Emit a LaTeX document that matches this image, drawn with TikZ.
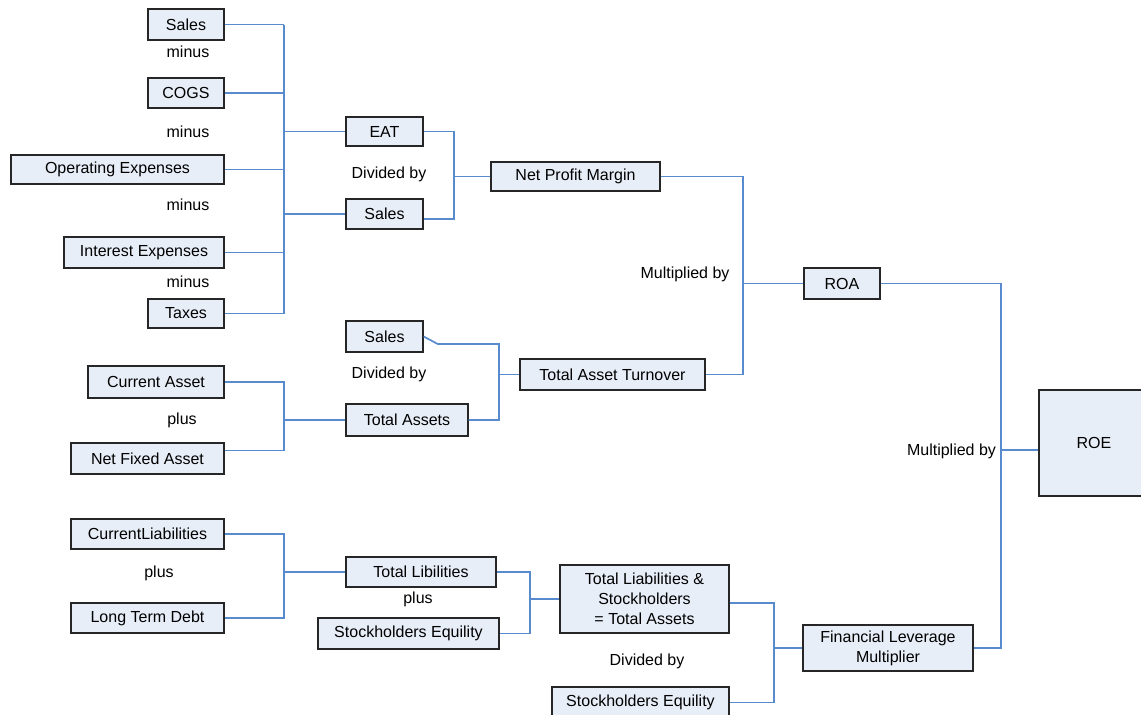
\documentclass[tikz,border=0pt]{standalone}
\usepackage{fontspec}
\setmainfont{Liberation Sans}
\definecolor{boxfill}{RGB}{232,238,248}
\definecolor{linkblue}{RGB}{88,138,206}
\begin{document}
\begin{tikzpicture}[x=1pt,y=-1pt]
		\tikzset{box/.style = {draw=black!85, fill=boxfill, line width=1.4pt, inner sep=0pt, align=center},
			link/.style = {draw=linkblue, line width=1.7pt},
			every node/.style = {font=\fontsize{16}{20}\selectfont}}

		\path[fill=white, use as bounding box] (0,0) rectangle (1141,715);

		\node[box, minimum width=76pt, minimum height=31pt] (sales_1) at (186,24.5) {Sales};
		\node (minus_1) at (188,52) {minus};
		\node[box, minimum width=76pt, minimum height=30pt] (cogs) at (186,93) {COGS};
		\node (minus_2) at (188,132) {minus};
		\node[box, minimum width=213pt, minimum height=29pt] (opex) at (117.5,169.5) {Operating Expenses};
		\node (minus_3) at (188,205) {minus};
		\node[box, minimum width=160pt, minimum height=31pt] (intexp) at (144,252.5) {Interest Expenses};
		\node (minus_4) at (188,282) {minus};
		\node[box, minimum width=76pt, minimum height=29pt] (taxes) at (186,313.5) {Taxes};

		\node[box, minimum width=77pt, minimum height=29pt] (eat) at (384.5,131.5) {EAT};
		\node (div_1) at (389,174) {Divided by};
		\node[box, minimum width=77pt, minimum height=30pt] (sales_2) at (384.5,214) {Sales};
		\node[box, minimum width=169pt, minimum height=29pt] (npm) at (575.5,176.5) {Net Profit Margin};

		\node[box, minimum width=77pt, minimum height=31pt] (sales_3) at (384.5,336.5) {Sales};
		\node (div_2) at (389,374) {Divided by};
		\node[box, minimum width=122pt, minimum height=32pt] (tassets) at (407,420) {Total Assets};
		\node[box, minimum width=185pt, minimum height=31pt] (tat) at (612.5,374.5) {Total Asset Turnover};

		\node[box, minimum width=136pt, minimum height=32pt] (cur_asset) at (156,382) {Current Asset};
		\node (plus_1) at (182,420) {plus};
		\node[box, minimum width=153pt, minimum height=31pt] (nfa) at (147.5,458.5) {Net Fixed Asset};

		\node (mult_1) at (685,274) {Multiplied by};
		\node[box, minimum width=76pt, minimum height=31pt] (roa) at (842,283.5) {ROA};

		\node[box, minimum width=153pt, minimum height=30pt] (cur_liab) at (147.5,534) {CurrentLiabilities};
		\node (plus_2) at (159,573) {plus};
		\node[box, minimum width=153pt, minimum height=30pt] (ltd) at (147.5,618) {Long Term Debt};

		\node[box, minimum width=150pt, minimum height=30pt] (tliab) at (421,572) {Total Libilities};
		\node (plus_3) at (418,599) {plus};
		\node[box, minimum width=181pt, minimum height=31pt] (se_1) at (408.5,633.5) {Stockholders Equility};

		\node[box, minimum width=169pt, minimum height=68pt] (tlse) at (644.5,599) {Total Liabilities \&\\Stockholders\\= Total Assets};
		\node (div_3) at (647,661) {Divided by};
		\node[box, minimum width=177pt, minimum height=31pt] (se_2) at (640.5,702.5) {Stockholders Equility};
		\node[box, minimum width=170pt, minimum height=46pt] (flm) at (888,648) {Financial Leverage\\Multiplier};

		\node (mult_2) at (951.5,451) {Multiplied by};
		\node[box, minimum width=110pt, minimum height=106pt] (roe) at (1094,443) {ROE};

		\coordinate (bus_1) at (284,0);
		\coordinate (bus_2) at (454,0);
		\coordinate (bus_3) at (743,0);
		\coordinate (bus_4) at (499,0);
		\coordinate (bus_5) at (530,0);
		\coordinate (bus_6) at (774,0);
		\coordinate (bus_7) at (1001,0);
		\coordinate (j_roe) at (1001,450);

		\draw[link] (sales_1.east) -- (sales_1.east -| bus_1);
		\draw[link] (cogs.east) -- (cogs.east -| bus_1);
		\draw[link] (opex.east) -- (opex.east -| bus_1);
		\draw[link] (intexp.east) -- (intexp.east -| bus_1);
		\draw[link] (taxes.east) -- (taxes.east -| bus_1);
		\draw[link] (sales_1.east -| bus_1) -- (taxes.east -| bus_1);
		\draw[link] (bus_1 |- eat.west) -- (eat.west);
		\draw[link] (bus_1 |- sales_2.west) -- (sales_2.west);

		\draw[link] (eat.east) -- (eat.east -| bus_2) -- ([yshift=-5pt]sales_2.east -| bus_2) -- ([yshift=-5pt]sales_2.east);
		\draw[link] (bus_2 |- npm.west) -- (npm.west);

		\draw[link] (npm.east) -- (npm.east -| bus_3) -- (tat.east -| bus_3) -- (tat.east);
		\draw[link] (bus_3 |- roa.west) -- (roa.west);

		\draw[link] (sales_3.east) -- ++(14,7.5) -| (bus_4 |- tassets.east) -- (tassets.east);
		\draw[link] (bus_4 |- tat.west) -- (tat.west);

		\draw[link] (cur_asset.east) -- (cur_asset.east -| bus_1) -- ([yshift=8pt]nfa.east -| bus_1) -- ([yshift=8pt]nfa.east);
		\draw[link] (bus_1 |- tassets.west) -- (tassets.west);

		\draw[link] (cur_liab.east) -- (cur_liab.east -| bus_1) -- (ltd.east -| bus_1) -- (ltd.east);
		\draw[link] (bus_1 |- tliab.west) -- (tliab.west);

		\draw[link] (tliab.east) -- (tliab.east -| bus_5) -- (se_1.east -| bus_5) -- (se_1.east);
		\draw[link] (bus_5 |- tlse.west) -- (tlse.west);

		\draw[link] ([yshift=-4pt]tlse.east) -- ([yshift=-4pt]tlse.east -| bus_6) -- (se_2.east -| bus_6) -- (se_2.east);
		\draw[link] (bus_6 |- flm.west) -- (flm.west);

		\draw[link] (roa.east) -- (roa.east -| bus_7) -- (flm.east -| bus_7) -- (flm.east);
		\draw[link] (j_roe) -- (j_roe -| roe.west);

	\end{tikzpicture}
\end{document}
